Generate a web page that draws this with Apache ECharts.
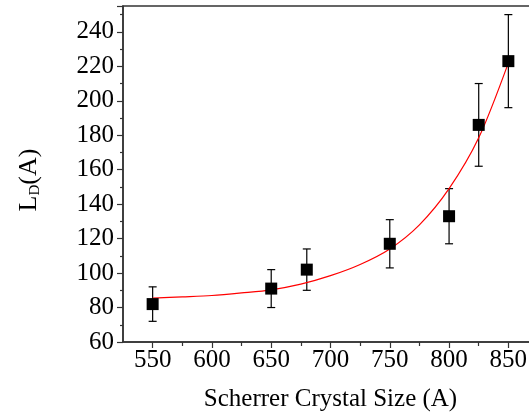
<!DOCTYPE html>
<html>
<head>
<meta charset="utf-8">
<script src="https://cdn.jsdelivr.net/npm/echarts@6/dist/echarts.min.js"></script>
<style>
  html, body { margin: 0; padding: 0; background: #fff; }
  #chart { width: 529px; height: 416px; }
</style>
</head>
<body>
<div id="chart"></div>
<script>
// Measured diffusion length versus Scherrer crystal size
const crystalSize = [550, 650, 680, 750, 800, 825, 850];
const diffusionLength = [82, 91, 102, 117, 133, 186, 223];
const lengthError = [10, 11, 12, 14, 16, 24, 27];

// Exponential growth fit, sampled along the crystal size range
const fitSize = [550, 575, 600, 625, 650, 675, 700, 725, 750, 775, 800, 825, 850];
const fitLength = [85.5, 86.2, 87.0, 88.5, 90.3, 93.6, 98.5, 105, 114, 128, 149, 178.5, 222];

const xMajorTicks = [550, 600, 650, 700, 750, 800, 850];
const xMinorTicks = [575, 625, 675, 725, 775, 825];
const yTickLabels = [60, 80, 100, 120, 140, 160, 180, 200, 220, 240];

const FONT = '"Liberation Serif", "Times New Roman", serif';
const AXIS_COLOR = '#333';

const chart = echarts.init(document.getElementById('chart'), null, { renderer: 'canvas' });

const points = crystalSize.map((x, i) => [x, diffusionLength[i]]);
const bars = crystalSize.map((x, i) => [x, diffusionLength[i] - lengthError[i], diffusionLength[i] + lengthError[i]]);
const fit = fitSize.map((x, i) => [x, fitLength[i]]);

chart.setOption({
  animation: false,
  backgroundColor: '#fff',
  grid: {
    left: 123, top: 6, right: -9, bottom: 74,
    outerBoundsMode: 'none',
    show: true, borderColor: AXIS_COLOR, borderWidth: 1.5, backgroundColor: 'transparent'
  },
  xAxis: [{
    type: 'value', min: 525, max: 875,
    name: 'Scherrer Crystal Size (A)',
    nameLocation: 'middle', nameGap: 45,
    nameTextStyle: { fontFamily: FONT, fontSize: 25, color: '#000' },
    axisLine: { show: true, lineStyle: { color: AXIS_COLOR, width: 1.5 } },
    axisTick: { show: true, customValues: xMajorTicks, length: 6, lineStyle: { color: AXIS_COLOR, width: 1.2 } },
    axisLabel: { customValues: xMajorTicks, fontFamily: FONT, fontSize: 25, color: '#000', margin: 6 },
    splitLine: { show: false }
  }, {
    type: 'value', min: 525, max: 875, position: 'bottom',
    axisLine: { show: false },
    axisTick: { show: true, customValues: xMinorTicks, length: 4, lineStyle: { color: AXIS_COLOR, width: 1.2 } },
    axisLabel: { show: false },
    splitLine: { show: false }
  }],
  yAxis: {
    type: 'value', min: 60, max: 255, interval: 20,
    name: '{m|L}{s|D}{m|(A)}',
    nameLocation: 'middle', nameGap: 80, nameRotate: 90,
    nameTextStyle: {
      padding: [0, 12, 0, 0],
      rich: {
        m: { fontFamily: FONT, fontSize: 26, color: '#000' },
        s: { fontFamily: FONT, fontSize: 15, color: '#000', padding: [12, 0, 0, 0] }
      }
    },
    axisLine: { show: true, lineStyle: { color: AXIS_COLOR, width: 1.5 } },
    axisTick: { show: true, length: 6, lineStyle: { color: AXIS_COLOR, width: 1.2 } },
    minorTick: { show: true, splitNumber: 2, length: 3, lineStyle: { color: AXIS_COLOR, width: 1.2 } },
    axisLabel: {
      fontFamily: FONT, fontSize: 25, color: '#000', margin: 9,
      formatter: v => (yTickLabels.indexOf(v) >= 0 ? String(v) : '')
    },
    splitLine: { show: false }
  },
  series: [{
    type: 'line',
    data: fit,
    smooth: 0.3,
    showSymbol: false,
    lineStyle: { color: '#ff0000', width: 1.2 },
    z: 3
  }, {
    type: 'custom',
    data: bars,
    z: 2,
    renderItem: function (params, api) {
      const x = api.value(0);
      const lo = api.coord([x, api.value(1)]);
      const hi = api.coord([x, api.value(2)]);
      const cap = 4;
      const style = { stroke: '#000', lineWidth: 1.2 };
      return {
        type: 'group',
        children: [
          { type: 'line', shape: { x1: lo[0], y1: lo[1], x2: hi[0], y2: hi[1] }, style },
          { type: 'line', shape: { x1: lo[0] - cap, y1: lo[1], x2: lo[0] + cap, y2: lo[1] }, style },
          { type: 'line', shape: { x1: hi[0] - cap, y1: hi[1], x2: hi[0] + cap, y2: hi[1] }, style }
        ]
      };
    }
  }, {
    type: 'scatter',
    data: points,
    symbol: 'rect',
    symbolSize: 12,
    itemStyle: { color: '#000', opacity: 1 },
    z: 4
  }]
});
</script>
</body>
</html>
